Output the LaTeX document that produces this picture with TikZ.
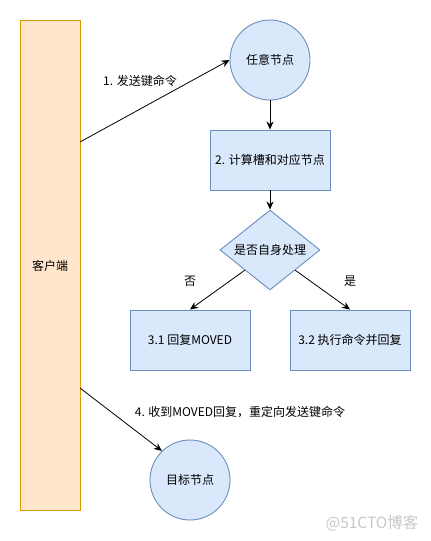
\documentclass[tikz,border=0pt]{standalone}
\usepackage{fontspec}
\setmainfont{Noto Sans CJK SC}
\usetikzlibrary{shapes.geometric,arrows.meta}
\definecolor{bfill}{HTML}{DAE8FC}
\definecolor{bline}{HTML}{6C8EBF}
\definecolor{ofill}{HTML}{FFE6CC}
\definecolor{oline}{HTML}{D79B00}
\begin{document}
\begin{tikzpicture}[x=1pt,y=-1pt,
  every node/.style={font=\fontsize{12}{14}\selectfont},
  bluebox/.style={draw=bline,fill=bfill,line width=0.9pt,rectangle,minimum width=120pt,minimum height=60pt,inner sep=0pt},
  bluecirc/.style={draw=bline,fill=bfill,line width=0.9pt,circle,minimum size=80pt,inner sep=0pt},
  conn/.style={line width=0.8pt,-{Stealth[length=8pt,width=7pt,inset=2.5pt]}},
  lbl/.style={inner sep=0pt}]
\useasboundingbox (0,0) rectangle (431,541);
\node[draw=oline,fill=ofill,line width=0.9pt,minimum width=60pt,minimum height=490pt,inner sep=0pt] (client) at (50,265) {};
\node[lbl] at (50,266) {客户端};
\node[bluecirc] (any) at (270,60) {任意节点};
\node[bluebox] (calc) at (270,160) {2. 计算槽和对应节点};
\node[draw=bline,fill=bfill,line width=0.9pt,diamond,minimum width=100pt,minimum height=80pt,inner sep=0pt,label={center:是否自身处理}] (dec) at (270,250) {};
\node[bluebox] (moved) at (190,340) {3.1 回复MOVED};
\node[bluebox] (exec) at (350,340) {3.2 执行命令并回复};
\node[bluecirc] (target) at (190,480) {目标节点};
\coordinate (c1) at (80,142);
\coordinate (c4) at (80,388);
\draw[conn] (c1) -- (any.west);
\draw[conn] (any.south) -- (calc.north);
\draw[conn] (calc.south) -- (dec.north);
\draw[conn] (dec.south west) -- (moved.north);
\draw[conn] (dec.south east) -- (exec.north);
\draw[conn] (c4) -- (target.134);
\node[lbl] (l1) at (140,81) {1. 发送键命令};
\node[lbl] (lno) at (190,281) {否};
\node[lbl] (lyes) at (350,281) {是};
\node[lbl] (l4) at (240,412) {4. 收到MOVED回复，重定向发送键命令};
\node[lbl,text=black!22,font=\fontsize{15.5}{17}\selectfont] (wm) at (372,523) {@51CTO博客};
\end{tikzpicture}
\end{document}
